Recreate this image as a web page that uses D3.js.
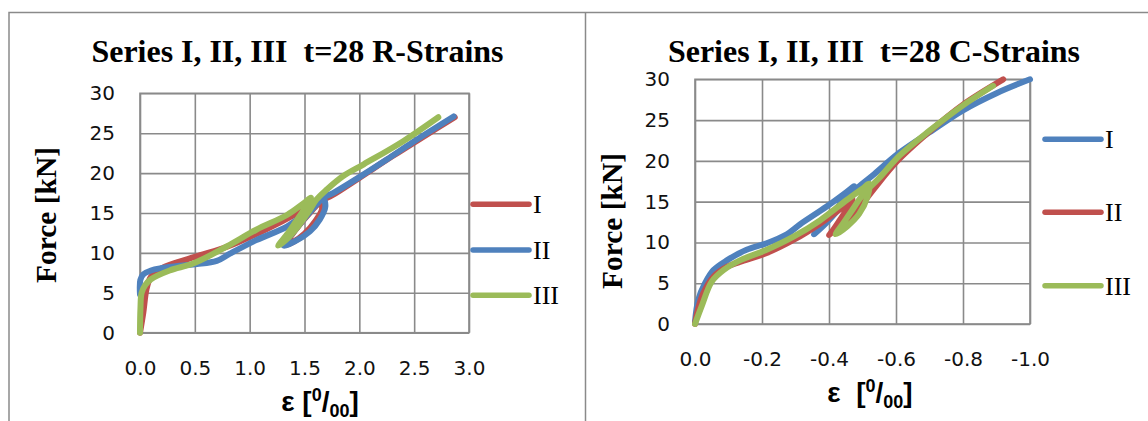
<!DOCTYPE html>
<html><head><meta charset="utf-8">
<script src="https://cdn.jsdelivr.net/npm/d3@7"></script>
<style>
html,body{margin:0;padding:0;background:#fff;}
svg{display:block;}
text{white-space:pre;}
</style></head>
<body>
<svg id="chart" width="1148" height="421"></svg>
<script>
// ---------------- DATA ----------------
const yTickValues = [0, 5, 10, 15, 20, 25, 30];
const yTickLabels = ["0", "5", "10", "15", "20", "25", "30"];

// Left chart: R-Strains
const rTitle = "Series I, II, III  t=28 R-Strains";
const rXTickValues = [0, 0.5, 1.0, 1.5, 2.0, 2.5, 3.0];
const rXTickLabels = ["0.0", "0.5", "1.0", "1.5", "2.0", "2.5", "3.0"];
const rSeriesNames = ["I", "II", "III"];
const rI_x = [0, 0.03, 0.06, 0.1, 0.2, 0.5, 0.8, 1.05, 1.3, 1.48, 1.6, 1.64, 1.66, 1.6, 1.5, 1.4, 1.32, 1.37, 1.46, 1.56, 1.66, 1.75, 2.0, 2.3, 2.6, 2.87];
const rI_y = [0, 2.5, 5.5, 7.0, 8.1, 9.5, 10.8, 12.3, 14.0, 15.3, 16.2, 16.6, 15.5, 14.0, 12.4, 11.4, 11.0, 12.0, 13.6, 15.2, 16.6, 17.2, 19.4, 22.1, 24.7, 27.0];
const rII_x = [0, 0.003, 0.03, 0.1, 0.2, 0.36, 0.52, 0.7, 0.82, 1.06, 1.34, 1.5, 1.62, 1.67, 1.69, 1.64, 1.55, 1.42, 1.31, 1.38, 1.48, 1.58, 1.68, 1.76, 2.0, 2.25, 2.49, 2.86];
const rII_y = [4.8, 6.6, 7.3, 7.8, 8.1, 8.4, 8.6, 9.0, 9.9, 11.6, 13.3, 14.9, 16.3, 16.9, 15.8, 14.2, 12.7, 11.5, 10.9, 12.3, 14.0, 15.6, 17.0, 17.5, 19.5, 21.7, 23.9, 27.1];
const rIII_x = [0, 0.004, 0.015, 0.05, 0.1, 0.27, 0.49, 0.79, 1.06, 1.34, 1.49, 1.56, 1.45, 1.35, 1.26, 1.33, 1.44, 1.54, 1.61, 1.7, 1.85, 2.04, 2.4, 2.72];
const rIII_y = [0, 3.0, 5.0, 6.0, 6.7, 7.8, 8.7, 10.8, 12.9, 14.75, 16.2, 16.9, 14.5, 12.5, 10.9, 11.6, 13.3, 15.2, 16.7, 17.9, 19.6, 21.1, 24.0, 27.0];

// Right chart: C-Strains
const cTitle = "Series I, II, III  t=28 C-Strains";
const cXTickValues = [0, -0.2, -0.4, -0.6, -0.8, -1.0];
const cXTickLabels = ["0.0", "-0.2", "-0.4", "-0.6", "-0.8", "-1.0"];
const cSeriesNames = ["I", "II", "III"];
const cI_x = [0, -0.01, -0.03, -0.055, -0.095, -0.154, -0.214, -0.274, -0.313, -0.393, -0.453, -0.475, -0.45, -0.41, -0.375, -0.355, -0.38, -0.43, -0.475, -0.53, -0.61, -0.7, -0.8, -0.9, -1.0];
const cI_y = [0.3, 3.0, 5.0, 6.6, 7.8, 9.1, 9.9, 11.0, 12.2, 14.4, 16.2, 16.9, 15.6, 13.5, 11.8, 11.0, 11.9, 14.1, 16.3, 18.2, 21.0, 23.5, 26.2, 28.3, 30.0];
const cII_x = [0, -0.01, -0.025, -0.055, -0.095, -0.134, -0.214, -0.294, -0.373, -0.443, -0.47, -0.455, -0.43, -0.41, -0.40, -0.415, -0.45, -0.493, -0.535, -0.602, -0.7, -0.8, -0.92];
const cII_y = [0, 2.0, 3.8, 5.8, 7.0, 7.6, 8.7, 10.3, 12.3, 14.4, 15.3, 14.2, 12.6, 11.4, 10.9, 11.5, 12.6, 14.4, 16.6, 19.9, 23.6, 26.9, 30.0];
const cIII_x = [0, -0.02, -0.05, -0.085, -0.134, -0.214, -0.294, -0.373, -0.453, -0.5, -0.52, -0.515, -0.49, -0.455, -0.42, -0.44, -0.47, -0.5, -0.55, -0.612, -0.7, -0.8, -0.89];
const cIII_y = [0, 2.2, 5.2, 6.6, 7.8, 9.1, 10.7, 12.7, 15.2, 16.6, 17.2, 15.6, 13.5, 12.0, 11.0, 12.2, 14.0, 15.8, 17.9, 20.7, 23.7, 26.8, 29.2];

const yAxisTitle = "Force [kN]";

// ---------------- STYLE / LAYOUT ----------------
const RED = "#C0504D", BLUE = "#4F81BD", GREEN = "#9BBB59";
const GRID = "#8a8a8a";
const svg = d3.select("#chart");

// outer frame
svg.append("path").attr("d", "M9,421 V12.5 H1148").attr("fill", "none").attr("stroke", GRID).attr("stroke-width", 1.5);
svg.append("line").attr("x1", 585.5).attr("x2", 585.5).attr("y1", 12.5).attr("y2", 421).attr("stroke", GRID).attr("stroke-width", 1.5);

function zip(xs, ys) { return xs.map((x, i) => [x, ys[i]]); }

function drawChart(cfg) {
  const x = d3.scaleLinear().domain(cfg.xDomain).range([cfg.x0, cfg.x1]);
  const y = d3.scaleLinear().domain([0, 30]).range([cfg.yBot, cfg.yTop]);
  const g = svg.append("g");

  // y grid + labels
  const ya = g.append("g").attr("transform", `translate(${cfg.x0},0)`)
    .call(d3.axisLeft(y).tickValues(yTickValues).tickFormat((d, i) => yTickLabels[i])
      .tickSize(-(cfg.x1 - cfg.x0)).tickPadding(25));
  ya.select(".domain").remove();
  ya.selectAll("line").attr("stroke", GRID).attr("stroke-width", 1.6);
  ya.selectAll("text").attr("font-family", "DejaVu Sans").attr("font-size", 20).attr("fill", "#111");

  // x grid + labels
  const xa = g.append("g").attr("transform", `translate(0,${cfg.yBot})`)
    .call(d3.axisBottom(x).tickValues(cfg.xTicks).tickFormat((d, i) => cfg.xLabels[i])
      .tickSize(-(cfg.yBot - cfg.yTop)).tickPadding(28));
  xa.select(".domain").remove();
  xa.selectAll("line").attr("stroke", GRID).attr("stroke-width", 1.6);
  xa.selectAll("text").attr("font-family", "DejaVu Sans").attr("font-size", 20).attr("fill", "#111");

  g.append("rect").attr("x", cfg.x0).attr("y", cfg.yTop).attr("width", cfg.x1 - cfg.x0)
    .attr("height", cfg.yBot - cfg.yTop).attr("fill", "none").attr("stroke", GRID).attr("stroke-width", 1.6);

  const line = d3.line().x(d => x(d[0])).y(d => y(d[1])).curve(d3.curveCatmullRom.alpha(0.5));
  cfg.series.forEach(s => {
    g.append("path").datum(zip(s.xs, s.ys)).attr("d", line).attr("fill", "none")
      .attr("stroke", s.color).attr("stroke-width", 6).attr("stroke-linecap", "round").attr("stroke-linejoin", "round");
  });

  // title
  g.append("text").attr("x", cfg.titleX).attr("y", 62).attr("text-anchor", "middle")
    .attr("xml:space", "preserve")
    .attr("font-family", "Liberation Serif").attr("font-weight", "bold").attr("font-size", 32)
    .attr("textLength", 412).attr("lengthAdjust", "spacingAndGlyphs").text(cfg.title);

  // y-axis title
  g.append("text").attr("transform", `translate(${cfg.yTitleX},${cfg.yTitleY}) rotate(-90)`)
    .attr("text-anchor", "middle").attr("font-family", "Liberation Serif").attr("font-weight", "bold")
    .attr("font-size", 30).attr("textLength", 136).attr("lengthAdjust", "spacingAndGlyphs").text(yAxisTitle);

  // x-axis title: ε [0/00]
  const xt = g.append("text").attr("x", cfg.xTitleX).attr("y", cfg.yBot + 78).attr("text-anchor", "middle")
    .attr("xml:space", "preserve")
    .attr("font-family", "Liberation Sans").attr("font-weight", "bold").attr("font-size", 28);
  xt.append("tspan").text(cfg.epsText);
  xt.append("tspan").attr("font-size", 18).attr("dy", -10).text("0");
  xt.append("tspan").attr("dy", 10).text("/");
  xt.append("tspan").attr("font-size", 18).attr("dy", 6).text("00");
  xt.append("tspan").attr("dy", -6).text("]");

  // legend
  cfg.series.forEach((s, i) => {
    const ly = cfg.legY[i];
    g.append("line").attr("x1", cfg.legX).attr("x2", cfg.legX + 56).attr("y1", ly).attr("y2", ly)
      .attr("stroke", s.color).attr("stroke-width", 5.5).attr("stroke-linecap", "round");
    g.append("text").attr("x", cfg.legX + 60).attr("y", ly + 9).attr("font-family", "Liberation Serif")
      .attr("font-size", 26).attr("fill", "#000").text(s.name);
  });
}

drawChart({
  xDomain: [0, 3], x0: 140, x1: 469, yTop: 93.3, yBot: 332.7,
  xTicks: rXTickValues, xLabels: rXTickLabels, title: rTitle, titleX: 297.5,
  yTitleX: 56, yTitleY: 215, xTitleX: 320, epsText: "ε [",
  legX: 473, legY: [204.3, 250, 295.3],
  series: [
    { name: rSeriesNames[0], xs: rI_x, ys: rI_y, color: RED },
    { name: rSeriesNames[1], xs: rII_x, ys: rII_y, color: BLUE },
    { name: rSeriesNames[2], xs: rIII_x, ys: rIII_y, color: GREEN }
  ]
});

drawChart({
  xDomain: [0, -1], x0: 695, x1: 1030, yTop: 79.3, yBot: 324,
  xTicks: cXTickValues, xLabels: cXTickLabels, title: cTitle, titleX: 874,
  yTitleX: 622, yTitleY: 221, xTitleX: 870, epsText: "ε  [",
  legX: 1045, legY: [139.3, 212.3, 285.7],
  series: [
    { name: cSeriesNames[0], xs: cI_x, ys: cI_y, color: BLUE },
    { name: cSeriesNames[1], xs: cII_x, ys: cII_y, color: RED },
    { name: cSeriesNames[2], xs: cIII_x, ys: cIII_y, color: GREEN }
  ]
});
</script>
</body></html>
